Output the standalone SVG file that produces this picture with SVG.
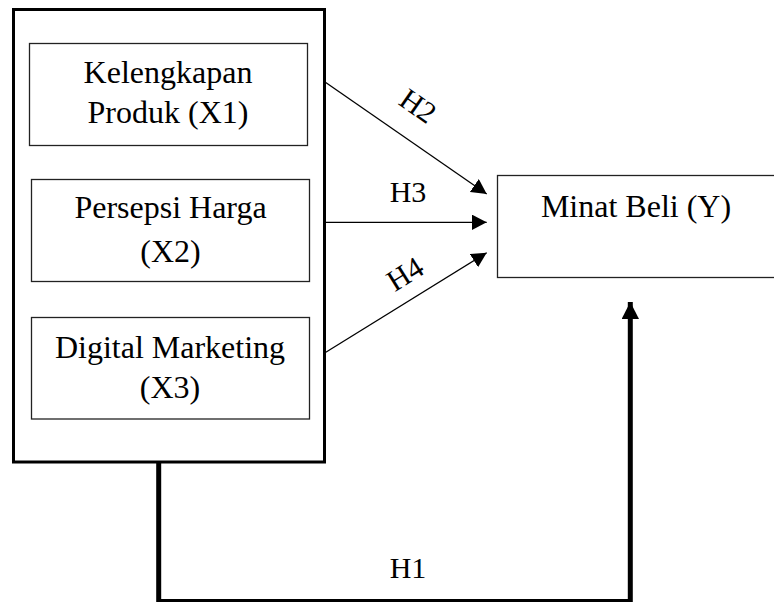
<svg xmlns="http://www.w3.org/2000/svg" width="774" height="602" viewBox="0 0 774 602">
  <style>
    .t { font-family: "Liberation Serif", "Times New Roman", serif; font-size: 32px; fill: #000; text-anchor: middle; }
    .h { font-family: "Liberation Serif", "Times New Roman", serif; font-size: 30px; fill: #000; text-anchor: middle; }
    .box { fill: #fff; stroke: #222; stroke-width: 1.3; }
    .outer { fill: #fff; stroke: #000; stroke-width: 3; }
    .thin { fill: none; stroke: #000; stroke-width: 1.3; }
    .thick { fill: none; stroke: #000; stroke-width: 5; }
  </style>
  <defs>
    <marker id="arr" markerUnits="userSpaceOnUse" markerWidth="16" markerHeight="16" refX="15" refY="7.8" orient="auto">
      <path d="M0,0 L15,7.8 L0,15.6 z" fill="#000"/>
    </marker>
    <marker id="arrThick" markerUnits="userSpaceOnUse" markerWidth="18" markerHeight="18" refX="17" refY="8.7" orient="auto">
      <path d="M0,0 L17,8.7 L0,17.4 z" fill="#000"/>
    </marker>
  </defs>
  <rect width="774" height="602" fill="#fff"/>

  <g id="independent">
    <rect class="outer" x="13.5" y="9.5" width="311" height="452.5"/>
  </g>
  <g id="x1">
    <rect class="box" x="29.5" y="43.5" width="278" height="102"/>
    <text class="t" x="168" y="83">Kelengkapan</text>
    <text class="t" x="168" y="123">Produk (X1)</text>
  </g>
  <g id="x2">
    <rect class="box" x="31.5" y="179.5" width="278" height="102"/>
    <text class="t" x="170.5" y="218">Persepsi Harga</text>
    <text class="t" x="170.5" y="262">(X2)</text>
  </g>
  <g id="x3">
    <rect class="box" x="31.5" y="317.5" width="278" height="101.5"/>
    <text class="t" x="170" y="358">Digital Marketing</text>
    <text class="t" x="170" y="398">(X3)</text>
  </g>
  <g id="y">
    <rect class="box" x="497.5" y="175.5" width="290" height="102"/>
    <text class="t" x="636" y="217">Minat Beli (Y)</text>
  </g>

  <g id="connectors">
    <line class="thin" x1="325" y1="82" x2="486.7" y2="194" marker-end="url(#arr)"/>
    <line class="thin" x1="325" y1="222.3" x2="486.7" y2="222.3" marker-end="url(#arr)"/>
    <line class="thin" x1="325" y1="352.7" x2="486.7" y2="252.7" marker-end="url(#arr)"/>
    <path class="thick" d="M158.7,462 L158.7,601.5 L630.3,601.5 L630.3,302" marker-end="url(#arrThick)"/>
    <text class="h" transform="translate(418,106) rotate(35)" x="0" y="10">H2</text>
    <text class="h" x="408" y="202">H3</text>
    <text class="h" transform="translate(405,274) rotate(-32)" x="0" y="10">H4</text>
    <text class="h" x="408" y="578">H1</text>
  </g>
</svg>
